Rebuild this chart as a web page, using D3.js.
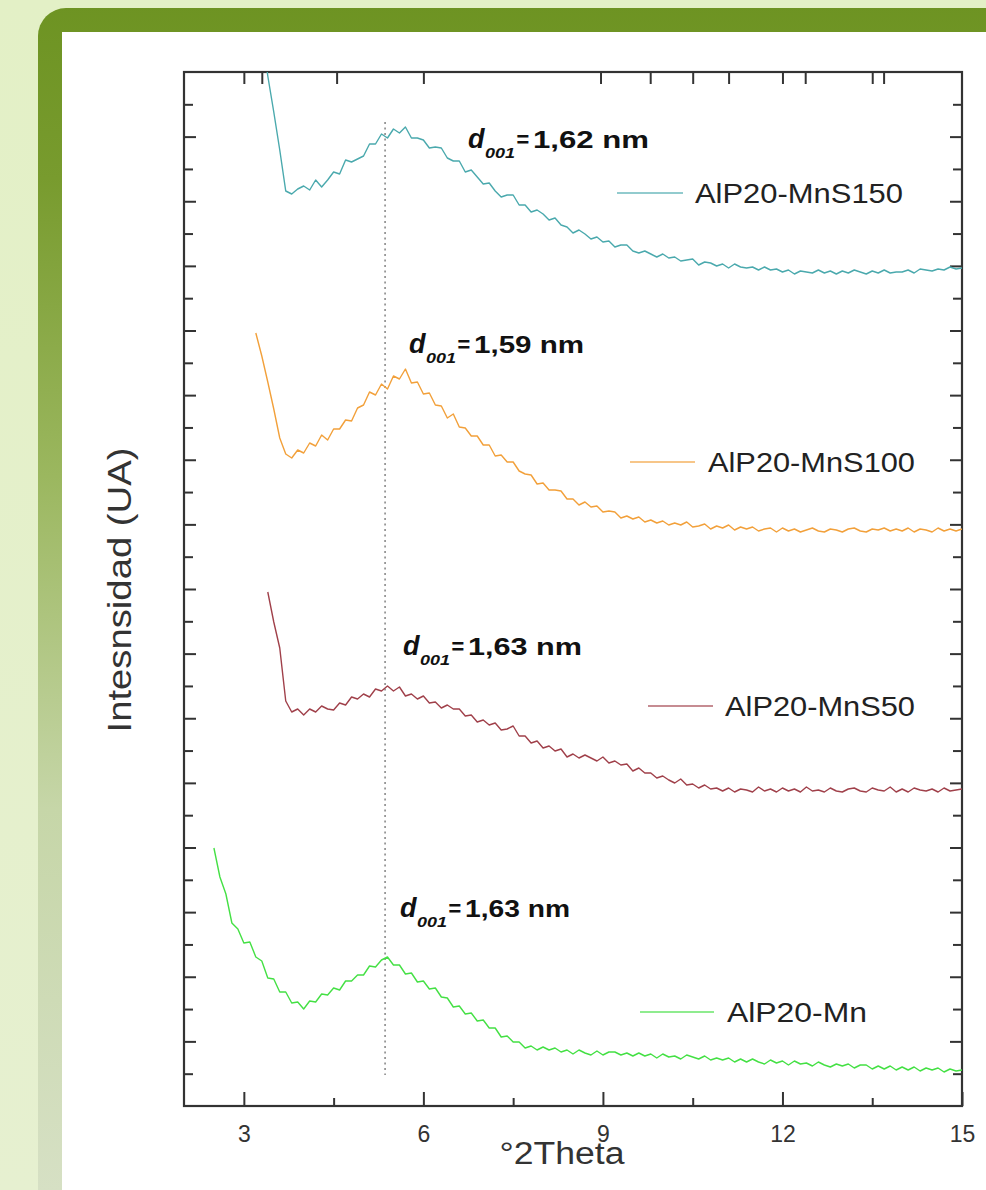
<!DOCTYPE html>
<html><head><meta charset="utf-8">
<script src="https://cdn.jsdelivr.net/npm/d3@7"></script>
<style>html,body{margin:0;padding:0;background:#fff;} svg{display:block;}</style>
</head><body>
<svg id="chart" width="986" height="1190"></svg>
<script>
// ---------------- DATA ----------------
const seriesNames = ["AlP20-MnS150", "AlP20-MnS100", "AlP20-MnS50", "AlP20-Mn"];
const seriesColors = ["#4aa9ad", "#f2a03a", "#a0404a", "#44e044"];
const startAngles = [3.3, 3.2, 3.4, 2.5];   // first 2θ of each scan
const angleStep = 0.1;                      // 2θ sampling step

const mnS150Values = [
  1076, 1030, 994, 956, 915, 912, 917,
  920, 916, 926, 919, 926, 934, 932, 946, 944, 947,
  950, 962, 962, 972, 968, 977, 973, 979, 968, 968,
  966, 958, 959, 958, 948, 945, 945, 934, 936, 929,
  922, 923, 915, 909, 911, 911, 901, 901, 894, 896,
  892, 886, 888, 881, 879, 873, 876, 872, 867, 869,
  864, 865, 859, 861, 861, 855, 853, 855, 852, 849,
  852, 848, 849, 845, 846, 847, 841, 844, 843, 840,
  842, 838, 842, 839, 838, 839, 836, 839, 836, 837,
  834, 836, 832, 835, 834, 833, 836, 833, 835, 832,
  835, 833, 836, 834, 832, 835, 833, 836, 833, 834,
  834, 836, 833, 837, 836, 835, 837, 836, 839, 837,
  838
];
const mnS100Values = [
  773, 750, 724, 697, 668, 652, 648, 656,
  653, 663, 660, 671, 666, 677, 677, 686, 685, 698,
  701, 714, 711, 722, 717, 730, 727, 737, 723, 724,
  712, 713, 701, 700, 688, 692, 679, 678, 670, 670,
  661, 661, 650, 651, 644, 644, 635, 632, 631, 622,
  623, 616, 616, 615, 607, 607, 601, 604, 599, 600,
  594, 595, 594, 588, 590, 587, 589, 584, 586, 583,
  585, 581, 583, 581, 584, 579, 580, 582, 577, 580,
  578, 581, 576, 579, 577, 579, 575, 577, 578, 574,
  578, 575, 577, 574, 576, 578, 575, 574, 577, 576,
  574, 577, 578, 575, 574, 577, 576, 578, 575, 577,
  575, 578, 574, 577, 576, 574, 578, 575, 577, 575,
  577
];
const mnS50Values = [
  514, 484, 458, 405, 394, 397,
  391, 397, 394, 400, 397, 396, 403, 401, 409, 407,
  412, 409, 417, 415, 420, 415, 419, 410, 412, 407,
  410, 403, 404, 398, 401, 397, 397, 390, 391, 384,
  386, 381, 383, 376, 377, 380, 370, 370, 363, 365,
  358, 360, 355, 357, 349, 352, 348, 351, 348, 345,
  349, 343, 345, 341, 342, 335, 338, 333, 333, 328,
  330, 326, 323, 327, 321, 322, 318, 321, 317, 318,
  315, 318, 314, 317, 316, 314, 319, 315, 317, 314,
  318, 315, 317, 314, 319, 315, 316, 314, 318, 315,
  314, 317, 318, 315, 314, 318, 316, 315, 319, 314,
  317, 314, 318, 316, 315, 317, 314, 318, 315, 316,
  317
];
const mnValues = [
  258, 229, 212, 183, 177,
  163, 164, 149, 145, 128, 127, 114, 114, 103, 104,
  97, 105, 104, 112, 111, 118, 116, 125, 125, 131,
  131, 140, 139, 146, 149, 141, 141, 132, 133, 124,
  125, 117, 118, 109, 108, 99, 100, 92, 93, 85,
  86, 78, 78, 69, 70, 64, 64, 58, 60, 56,
  59, 56, 58, 54, 56, 52, 56, 53, 51, 55,
  51, 54, 54, 51, 53, 50, 53, 50, 52, 48,
  52, 49, 50, 47, 51, 49, 47, 50, 46, 48,
  46, 48, 44, 47, 44, 47, 44, 42, 46, 43,
  45, 41, 45, 42, 43, 40, 44, 41, 39, 42,
  40, 42, 38, 41, 41, 37, 40, 37, 40, 36,
  39, 36, 39, 35, 38, 36, 38, 34, 37, 35,
  36
];
const seriesValues = [mnS150Values, mnS100Values, mnS50Values, mnValues];

const d001Texts = ["1,62 nm", "1,59 nm", "1,63 nm", "1,63 nm"];
const d001Angle = 5.36;                     // dotted reference line
const d001LineRange = [31, 984];            // intensity extent of dotted line

const xTicksMajor = [3, 6, 9, 12, 15];
const xTicksMinor = [4.5, 7.5, 10.5, 13.5];
const topTicks = [3.0, 3.3, 4.55, 6.0, 8.96, 9.79, 10.5, 11.1, 12.0, 12.38, 13.5, 13.69];
const xTitle = "°2Theta";
const yTitle = "Intesnsidad (UA)";

// ---------------- LAYOUT ----------------
const W = 986, H = 1190;
const plot = {left: 184, right: 962, top: 72, bottom: 1106};
const FONT = "'Liberation Sans', Arial, Helvetica, sans-serif";

const svg = d3.select("#chart");
const defs = svg.append("defs");

// background + green frame
const bg = defs.append("linearGradient").attr("id", "bgGrad").attr("x1", 0).attr("y1", 0).attr("x2", 0).attr("y2", 1);
bg.append("stop").attr("offset", "0%").attr("stop-color", "#e3f0c6");
bg.append("stop").attr("offset", "100%").attr("stop-color", "#e6f0d0");
const fr = defs.append("linearGradient").attr("id", "frameGrad").attr("gradientUnits", "userSpaceOnUse")
  .attr("x1", 0).attr("y1", 0).attr("x2", 0).attr("y2", H);
fr.append("stop").attr("offset", "0%").attr("stop-color", "#6d9322");
fr.append("stop").attr("offset", "15%").attr("stop-color", "#789b2e");
fr.append("stop").attr("offset", "40%").attr("stop-color", "#9bb75f");
fr.append("stop").attr("offset", "68%").attr("stop-color", "#c6d6a8");
fr.append("stop").attr("offset", "100%").attr("stop-color", "#d6e0c4");

svg.append("rect").attr("width", W).attr("height", H).attr("fill", "url(#bgGrad)");
svg.append("rect").attr("x", 38).attr("y", 8).attr("width", W + 60).attr("height", H + 60)
  .attr("rx", 28).attr("fill", "url(#frameGrad)");
svg.append("rect").attr("x", 62).attr("y", 32).attr("width", W - 62).attr("height", H - 32).attr("fill", "#ffffff");

// scales
const x = d3.scaleLinear().domain([2, 15]).range([plot.left, plot.right]);
const y = d3.scaleLinear().domain([0, 1034]).range([plot.bottom, plot.top]);

defs.append("clipPath").attr("id", "plotClip").append("rect")
  .attr("x", plot.left).attr("y", plot.top)
  .attr("width", plot.right - plot.left).attr("height", plot.bottom - plot.top);

// y tick positions (unlabeled intensity axis, 32 divisions)
const yStep = 1034 / 32;
const yTicksLong = d3.range(2, 32, 2).map(k => k * yStep);
const yTicksShort = d3.range(1, 32, 2).map(k => k * yStep);

function styleAxis(g) {
  g.select(".domain").remove();
  g.selectAll(".tick line").attr("stroke", "#333").attr("stroke-width", 2);
  g.selectAll(".tick text").attr("fill", "#333").style("font-family", FONT);
}

// bottom axis
svg.append("g").attr("transform", `translate(0,${plot.bottom})`)
  .call(d3.axisBottom(x).tickValues(xTicksMajor).tickSize(-14).tickPadding(20).tickFormat(d3.format("d")))
  .call(styleAxis)
  .call(g => g.selectAll(".tick text").style("font-size", "23px"));
svg.append("g").attr("transform", `translate(0,${plot.bottom})`)
  .call(d3.axisBottom(x).tickValues(xTicksMinor).tickSize(-8).tickFormat(""))
  .call(styleAxis);
// top axis ticks
svg.append("g").attr("transform", `translate(0,${plot.top})`)
  .call(d3.axisTop(x).tickValues(topTicks).tickSize(-12).tickFormat(""))
  .call(styleAxis);
// left / right ticks
[[yTicksLong, 12], [yTicksShort, 9]].forEach(([vals, len]) => {
  svg.append("g").attr("transform", `translate(${plot.left},0)`)
    .call(d3.axisLeft(y).tickValues(vals).tickSize(-len).tickFormat("")).call(styleAxis);
  svg.append("g").attr("transform", `translate(${plot.right},0)`)
    .call(d3.axisRight(y).tickValues(vals).tickSize(-len).tickFormat("")).call(styleAxis);
});

// frame
svg.append("rect").attr("x", plot.left).attr("y", plot.top)
  .attr("width", plot.right - plot.left).attr("height", plot.bottom - plot.top)
  .attr("fill", "none").attr("stroke", "#333").attr("stroke-width", 2.2);

// dotted reference line
svg.append("line")
  .attr("x1", x(d001Angle)).attr("x2", x(d001Angle))
  .attr("y1", y(d001LineRange[1])).attr("y2", y(d001LineRange[0]))
  .attr("stroke", "#8a8a8a").attr("stroke-width", 1.6).attr("stroke-dasharray", "2,3.5");

// curves
const line = d3.line().x(d => x(d[0])).y(d => y(d[1]));
const curves = svg.append("g").attr("clip-path", "url(#plotClip)");
seriesValues.forEach((vals, i) => {
  const pts = vals.map((v, j) => [+(startAngles[i] + j * angleStep).toFixed(2), v]);
  curves.append("path").datum(pts).attr("d", line)
    .attr("fill", "none").attr("stroke", seriesColors[i]).attr("stroke-width", 1.4)
    .attr("stroke-linejoin", "round");
});

// legends (one per curve)
const legendLayout = [
  {x1: 617, x2: 683, y: 193, tx: 695, tw: 208},
  {x1: 630, x2: 695, y: 462, tx: 708, tw: 207},
  {x1: 648, x2: 713, y: 706, tx: 725, tw: 190},
  {x1: 640, x2: 714, y: 1012, tx: 727, tw: 140}
];
seriesNames.forEach((name, i) => {
  const L = legendLayout[i];
  svg.append("line").attr("x1", L.x1).attr("x2", L.x2).attr("y1", L.y).attr("y2", L.y)
    .attr("stroke", seriesColors[i]).attr("stroke-opacity", 0.6).attr("stroke-width", 2);
  svg.append("text").attr("x", L.tx).attr("y", L.y + 10)
    .attr("textLength", L.tw).attr("lengthAdjust", "spacingAndGlyphs")
    .style("font-family", FONT).style("font-size", "28px").attr("fill", "#222").text(name);
});

// d001 annotations
const annotLayout = [
  {x: 468, y: 148, nw: 116},
  {x: 409, y: 353, nw: 110},
  {x: 403, y: 655, nw: 114},
  {x: 400, y: 917, nw: 105}
];
d001Texts.forEach((t, i) => {
  const A = annotLayout[i];
  const g = svg.append("g").style("font-family", FONT).attr("fill", "#111");
  g.append("text").attr("x", A.x).attr("y", A.y).style("font-size", "27px")
    .style("font-weight", "bold").style("font-style", "italic").text("d");
  g.append("text").attr("x", A.x + 17).attr("y", A.y + 10).attr("textLength", 30)
    .attr("lengthAdjust", "spacingAndGlyphs").style("font-size", "15px")
    .style("font-weight", "bold").style("font-style", "italic").text("001");
  g.append("text").attr("x", A.x + 48).attr("y", A.y - 1).style("font-size", "22px")
    .style("font-weight", "bold").style("font-style", "italic").text("=");
  g.append("text").attr("x", A.x + 65).attr("y", A.y).attr("textLength", A.nw)
    .attr("lengthAdjust", "spacingAndGlyphs").style("font-size", "24px")
    .style("font-weight", "bold").text(t);
});

// axis titles
svg.append("text").attr("x", 562).attr("y", 1164).attr("text-anchor", "middle")
  .attr("textLength", 125).attr("lengthAdjust", "spacingAndGlyphs")
  .style("font-family", FONT).style("font-size", "31px").attr("fill", "#333").text(xTitle);
svg.append("text").attr("transform", "translate(131,590) rotate(-90)").attr("text-anchor", "middle")
  .attr("textLength", 285).attr("lengthAdjust", "spacingAndGlyphs")
  .style("font-family", FONT).style("font-size", "34px").attr("fill", "#333").text(yTitle);
</script>
</body></html>
